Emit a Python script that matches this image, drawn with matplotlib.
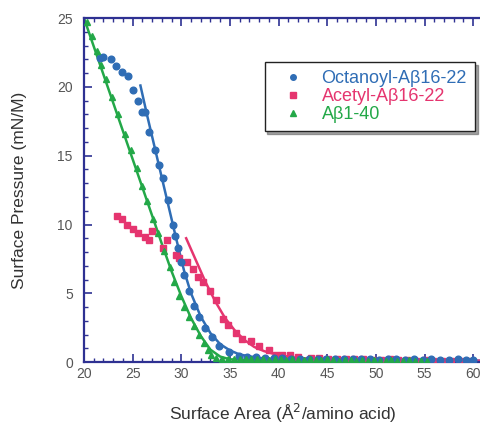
import matplotlib.pyplot as plt
from matplotlib.lines import Line2D

plt.rcParams['font.family'] = ['Liberation Sans', 'DejaVu Sans']

# ---- colours
blue = "#2f6db5"
pink = "#e5356f"
green = "#23a848"
axis_col = "#2e3192"
text_col = "#555555"

# ---- Octanoyl-Abeta16-22 (circles)
oct_x = [21.6, 22.0, 22.8, 23.3, 23.9, 24.5, 25.0, 25.6, 26.0, 26.3, 26.7, 27.3,
         27.7, 28.1, 28.6, 29.1, 29.4, 29.7, 30.0, 30.3, 30.8, 31.3, 31.8, 32.4,
         33.2, 33.9, 34.9, 35.9, 36.8, 37.7, 38.6, 39.5, 40.4, 41.3, 42.2, 43.1,
         44.0, 44.9, 45.8, 46.7, 47.6, 48.5, 49.4, 50.3, 51.2, 52.1, 53.0, 53.9,
         54.8, 55.7, 56.6, 57.5, 58.4, 59.3, 60.0]
oct_y = [22.1, 22.2, 22.0, 21.5, 21.1, 20.8, 19.8, 19.0, 18.2, 18.2, 16.7, 15.4,
         14.3, 13.4, 11.8, 10.0, 9.2, 8.3, 7.3, 6.3, 5.2, 4.1, 3.3, 2.5,
         1.8, 1.2, 0.7, 0.45, 0.4, 0.35, 0.3, 0.3, 0.3, 0.25, 0.25, 0.25,
         0.2, 0.25, 0.2, 0.2, 0.2, 0.2, 0.2, 0.15, 0.2, 0.2, 0.15, 0.2,
         0.15, 0.2, 0.15, 0.15, 0.2, 0.15, 0.15]
oct_fit_x = [25.8, 26.5, 27.5, 28.5, 29.5, 30.3, 31.0, 32.0, 33.0, 34.0, 35.0, 36.0,
             38.0, 40.0, 45.0, 50.0, 61.0]
oct_fit_y = [20.1, 17.9, 14.9, 11.9, 8.9, 6.6, 5.0, 3.3, 2.1, 1.3, 0.85, 0.55,
             0.3, 0.2, 0.15, 0.12, 0.1]

# ---- Acetyl-Abeta16-22 (squares)
ace_x = [23.4, 23.9, 24.4, 25.0, 25.6, 26.3, 26.7, 27.0, 28.1, 28.5, 29.5, 29.8,
         30.6, 31.2, 31.7, 32.2, 32.9, 33.6, 34.3, 34.8, 35.6, 36.2, 37.2, 38.0,
         39.0, 39.7, 40.3, 41.2, 42.0, 43.3, 44.2, 45.1, 46.0, 46.9, 47.8, 48.7,
         49.6, 50.5, 51.4, 52.3, 53.2, 54.1, 55.0, 55.9, 56.8, 57.7, 58.6, 59.5]
ace_y = [10.6, 10.4, 10.0, 9.7, 9.4, 9.1, 8.9, 9.5, 8.3, 8.9, 7.8, 7.6,
         7.3, 6.8, 6.2, 5.8, 5.2, 4.5, 3.1, 2.7, 2.1, 1.7, 1.5, 1.2,
         0.9, 0.5, 0.5, 0.55, 0.4, 0.3, 0.3, 0.25, 0.25, 0.2, 0.2, 0.2,
         0.15, 0.15, 0.2, 0.15, 0.15, 0.1, 0.15, 0.1, 0.1, 0.1, 0.05, 0.1]
ace_fit_x = [30.5, 31.5, 32.5, 33.5, 34.5, 35.5, 36.5, 37.5, 38.5, 40.0, 42.0, 45.0,
             50.0, 61.0]
ace_fit_y = [9.0, 7.4, 5.8, 4.4, 3.2, 2.3, 1.6, 1.1, 0.8, 0.5, 0.3, 0.2,
             0.15, 0.1]

# ---- Abeta1-40 (triangles)
ab_x = [20.3, 20.8, 21.3, 21.8, 22.3, 22.9, 23.5, 24.2, 24.8, 25.4, 26.0, 26.5,
        27.1, 27.6, 28.2, 28.8, 29.3, 29.8, 30.3, 30.8, 31.3, 31.8, 32.3, 32.7,
        33.1, 33.6, 34.2, 34.8, 35.4, 36.0, 36.6, 37.2, 37.8, 38.4, 39.0, 39.6,
        40.2, 40.8, 41.4, 42.0, 42.6, 43.2, 43.8, 44.4, 45.0, 45.6, 46.2, 46.8,
        47.4, 48.0, 48.6, 49.2, 49.8, 50.4, 51.0, 51.6, 52.2, 52.8, 53.4, 54.0,
        54.6, 55.2]
ab_y = [24.7, 23.7, 22.6, 21.6, 20.6, 19.3, 18.0, 16.6, 15.4, 14.1, 12.8, 11.7,
        10.4, 9.4, 8.1, 6.9, 5.8, 4.8, 4.0, 3.3, 2.6, 2.0, 1.4, 0.9,
        0.5, 0.3, 0.25, 0.2, 0.25, 0.2, 0.2, 0.25, 0.2, 0.2, 0.15, 0.2,
        0.2, 0.15, 0.2, 0.15, 0.15, 0.2, 0.15, 0.15, 0.2, 0.15, 0.1, 0.15,
        0.15, 0.1, 0.15, 0.1, 0.15, 0.1, 0.1, 0.15, 0.1, 0.1, 0.15, 0.1,
        0.1, 0.1]
ab_fit_x = [20.0, 22.0, 24.0, 26.0, 28.0, 29.0, 30.0, 31.0, 32.0, 33.0, 34.0, 35.0,
            40.0, 61.0]
ab_fit_y = [25.0, 20.9, 16.8, 12.7, 8.6, 6.6, 4.8, 3.2, 1.9, 0.9, 0.4, 0.2,
            0.1, 0.05]

labels = ["Octanoyl-A\u03b216-22", "Acetyl-A\u03b216-22", "A\u03b21-40"]

fig = plt.figure(figsize=(4.81, 4.25), dpi=100)
ax = fig.add_axes([0.1746, 0.148, 0.8254, 0.8094])

# fitted curves
ax.plot(ab_fit_x, ab_fit_y, color=green, lw=1.8, zorder=2)
ax.plot(oct_fit_x, oct_fit_y, color=blue, lw=1.8, zorder=2)
ax.plot(ace_fit_x, ace_fit_y, color=pink, lw=1.8, zorder=2)

# data points
ax.plot(ace_x, ace_y, "s", color=pink, ms=5, ls="none", zorder=3)
ax.plot(oct_x, oct_y, "o", color=blue, ms=4.8, ls="none", zorder=4)
ax.plot(ab_x, ab_y, "^", color=green, ms=4.3, ls="none", zorder=5)

ax.set_xlim(20, 60.8)
ax.set_ylim(0, 25)
ax.set_xticks(range(20, 61, 5))
ax.set_yticks(range(0, 26, 5))
ax.set_xticks(range(20, 61), minor=True)
ax.set_yticks(range(0, 26), minor=True)
ax.tick_params(which="both", direction="in", color=axis_col, top=True,
               labelcolor=text_col, labelsize=10)
ax.tick_params(which="major", length=6, width=1.2)
ax.tick_params(which="minor", length=3, width=1.0)
ax.tick_params(axis="y", pad=8)
for side in ["left", "bottom", "top"]:
    ax.spines[side].set_color(axis_col)
    ax.spines[side].set_linewidth(1.6)
ax.spines["right"].set_visible(False)

ax.set_xlabel("Surface Area (\u00c5$^2$/amino acid)", fontsize=12.5,
              color="#333333", labelpad=15)
ax.set_ylabel("Surface Pressure (mN/M)", fontsize=12.5, color="#333333",
              labelpad=22)

# legend: markers only, coloured text
handles = [
    Line2D([], [], marker="o", color=blue, ls="none", ms=4),
    Line2D([], [], marker="s", color=pink, ls="none", ms=4),
    Line2D([], [], marker="^", color=green, ls="none", ms=4),
]
leg = ax.legend(handles, labels, loc="upper right", bbox_to_anchor=(0.985, 0.872),
                borderaxespad=0, fontsize=13, labelcolor=[blue, pink, green],
                frameon=True, fancybox=False, shadow=True, edgecolor="#222222",
                handlelength=2.2, handletextpad=0.5, borderpad=0.45,
                labelspacing=0.05)
leg.get_frame().set_linewidth(1.0)

fig.savefig("out.png", dpi=100)
